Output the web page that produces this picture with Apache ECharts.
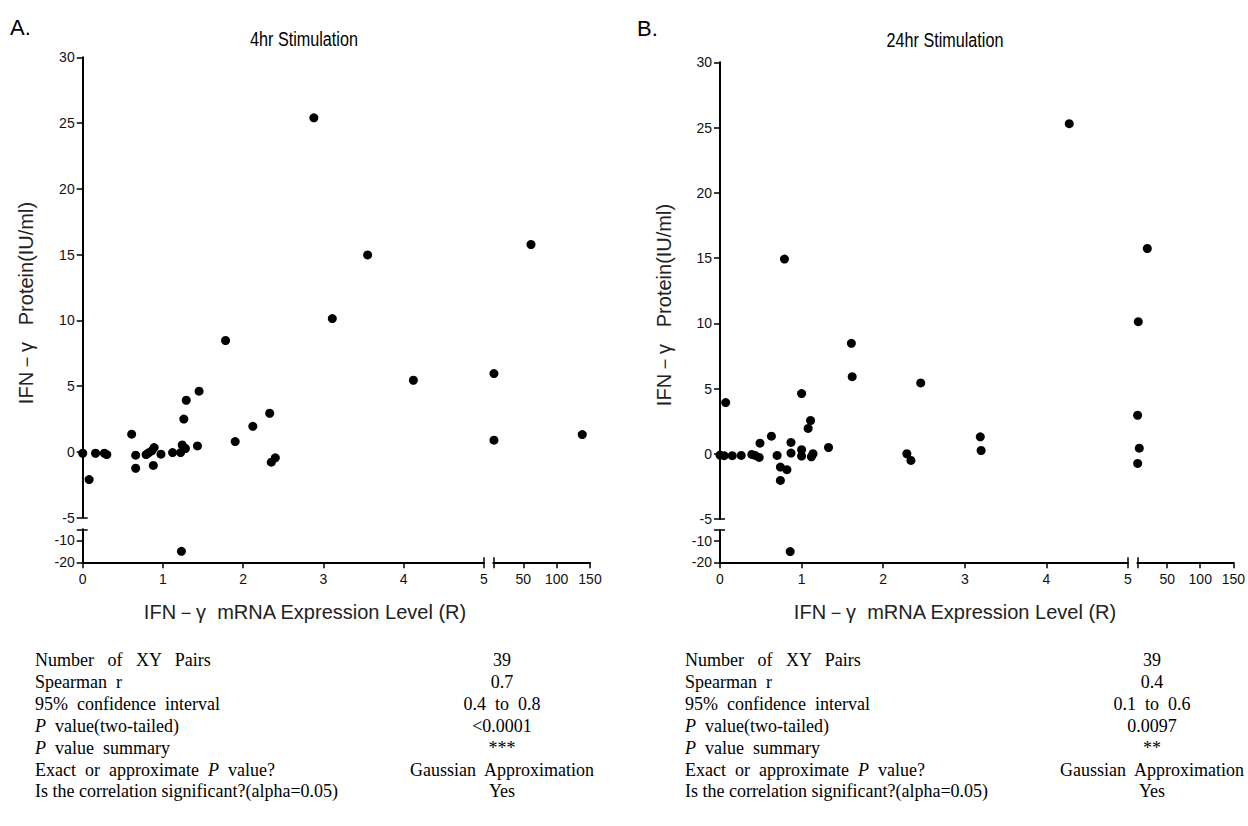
<!DOCTYPE html>
<html><head><meta charset="utf-8">
<script src="https://cdn.jsdelivr.net/npm/echarts@6/dist/echarts.min.js"></script>
<style>html,body{margin:0;padding:0;background:#fff}#c{width:1248px;height:826px}</style>
</head><body><div id="c"></div>
<script>
// ---------- DATA ----------
// Panel A: 4hr stimulation (x = mRNA expression level R, y = protein IU/ml)
const xA = [0, 0.08, 0.16, 0.27, 0.30, 0.61, 0.66, 0.66, 0.79, 0.82, 0.86, 0.89, 0.88, 0.975, 1.12, 1.22, 1.24, 1.28, 1.26, 1.29, 1.43, 1.45, 1.78, 1.90, 2.12, 2.33, 2.35, 2.40, 1.23, 2.88, 3.55, 3.11, 4.12, 6, 6, 61.5, 138.4];
const yA = [-0.1, -2.1, -0.1, -0.1, -0.2, 1.35, -0.25, -1.24, -0.2, -0.07, 0.08, 0.33, -1.03, -0.17, -0.05, -0.05, 0.53, 0.26, 2.5, 3.93, 0.46, 4.62, 8.47, 0.79, 1.95, 2.94, -0.78, -0.45, -15, 25.4, 14.98, 10.14, 5.45, 5.96, 0.89, 15.77, 1.32];
// Panel B: 24hr stimulation
const xB = [0.0, 0.05, 0.07, 0.15, 0.26, 0.39, 0.43, 0.48, 0.49, 0.63, 0.70, 0.74, 0.82, 0.74, 0.87, 0.87, 1.0, 1.0, 1.0, 1.08, 1.11, 1.12, 1.14, 1.33, 2.29, 2.34, 0.86, 4.28, 19.7, 6.3, 5.3, 7.8, 5.4, 2.46, 3.19, 3.20, 1.61, 1.62, 0.79];
const yB = [-0.1, -0.15, 3.92, -0.15, -0.13, -0.05, -0.13, -0.28, 0.81, 1.35, -0.13, -1.02, -1.22, -2.04, 0.87, 0.05, 0.31, -0.18, 4.61, 1.94, 2.55, -0.23, 0.0, 0.48, 0.0, -0.51, -15, 25.3, 15.73, 10.12, 2.95, 0.43, -0.74, 5.43, 1.3, 0.25, 8.46, 5.91, 14.92];

const yTicksUpper = [-5, 0, 5, 10, 15, 20, 25, 30];
const yTicksLower = [-20, -10];
const xTicksLeft = [0, 1, 2, 3, 4, 5];
const xTicksRight = [50, 100, 150];

const statLabels = ['Number   of   XY   Pairs', 'Spearman  r', '95%  confidence  interval', '{i|P}  value(two-tailed)', '{i|P}  value  summary', 'Exact  or  approximate  {i|P}  value?', 'Is the correlation significant?(alpha=0.05)'];
const statsA = ['39', '0.7', '0.4  to  0.8', '<0.0001', '***', 'Gaussian  Approximation', 'Yes'];
const statsB = ['39', '0.4', '0.1  to  0.6', '0.0097', '**', 'Gaussian  Approximation', 'Yes'];

const titleA = '4hr Stimulation', titleB = '24hr Stimulation';
const yName = 'IFN－γ   Protein(IU/ml)';
const xName = 'IFN－γ  mRNA Expression Level (R)';

// axis break settings
const X_BREAK = 5, X_MAX = 150, Y_BREAK = -5, Y_MIN = -20, Y_MAX = 30;

// ---------- LAYOUT ----------
const PANELS = [
  {xs: xA, ys: yA, L: 82.7, LE: 484, RS: 493.3, RE: 590, T: 57.3, UB: 517.7, LT: 529.3, B: 562.3},
  {xs: xB, ys: yB, L: 720, LE: 1128, RS: 1137.4, RE: 1235, T: 62.3, UB: 519, LT: 530, B: 562.3}
];
const INK = '#000';
const SANS = "'Liberation Sans', Arial, sans-serif";
const SERIF = "'Liberation Serif', 'Times New Roman', serif";
const lab = {show: true, color: '#111', fontSize: 14, fontFamily: SANS};

function hiddenAx(grid, min, max) {
  return {type: 'value', gridIndex: grid, min, max, show: false, splitLine: {show: false}};
}
function visAx(grid, min, max, ticks, labels, pos) {
  return {type: 'value', gridIndex: grid, min, max, position: pos, splitLine: {show: false},
    axisLine: {show: true, onZero: false, lineStyle: {color: INK, width: 2}},
    axisTick: {show: true, length: 6, customValues: ticks, lineStyle: {color: INK, width: 1.5}},
    axisLabel: Object.assign({}, lab, {customValues: labels, margin: pos === 'left' ? 8 : 10})};
}
function capAx(grid, min, max, vals, pos) {
  return {type: 'value', gridIndex: grid, min, max, position: pos, splitLine: {show: false},
    axisLine: {show: false, onZero: false},
    axisTick: {show: true, inside: true, length: 5, customValues: vals, lineStyle: {color: INK, width: 1.5}},
    axisLabel: {show: false}};
}

const grid = [], xAxis = [], yAxis = [], series = [];
PANELS.forEach(p => {
  const g0 = grid.length;
  grid.push({left: p.L, top: p.T, width: p.LE - p.L, height: p.UB - p.T});
  grid.push({left: p.L, top: p.LT, width: p.LE - p.L, height: p.B - p.LT});
  grid.push({left: p.RS, top: p.T, width: p.RE - p.RS, height: p.UB - p.T});
  grid.push({left: p.RS, top: p.LT, width: p.RE - p.RS, height: p.B - p.LT});
  const xi = xAxis.length;
  xAxis.push(hiddenAx(g0, 0, X_BREAK));
  xAxis.push(visAx(g0 + 1, 0, X_BREAK, xTicksLeft, xTicksLeft, 'bottom'));
  xAxis.push(capAx(g0 + 1, 0, X_BREAK, [X_BREAK], 'bottom'));
  xAxis.push(hiddenAx(g0 + 2, X_BREAK, X_MAX));
  xAxis.push(visAx(g0 + 3, X_BREAK, X_MAX, [X_BREAK].concat(xTicksRight), xTicksRight, 'bottom'));
  xAxis.push(capAx(g0 + 3, X_BREAK, X_MAX, [X_BREAK], 'bottom'));
  const yi = yAxis.length;
  yAxis.push(visAx(g0, Y_BREAK, Y_MAX, yTicksUpper, yTicksUpper, 'left'));
  yAxis.push(capAx(g0, Y_BREAK, Y_MAX, [Y_BREAK], 'left'));
  yAxis.push(visAx(g0 + 1, Y_MIN, Y_BREAK, [Y_BREAK].concat(yTicksLower), yTicksLower, 'left'));
  yAxis.push(capAx(g0 + 1, Y_MIN, Y_BREAK, [Y_BREAK], 'left'));
  yAxis.push(hiddenAx(g0 + 2, Y_BREAK, Y_MAX));
  yAxis.push(hiddenAx(g0 + 3, Y_MIN, Y_BREAK));
  const segs = [
    {xa: xi + 0, ya: yi + 0, fx: v => v <= X_BREAK, fy: v => v >= Y_BREAK},
    {xa: xi + 1, ya: yi + 2, fx: v => v <= X_BREAK, fy: v => v < Y_BREAK},
    {xa: xi + 3, ya: yi + 4, fx: v => v > X_BREAK, fy: v => v >= Y_BREAK},
    {xa: xi + 4, ya: yi + 5, fx: v => v > X_BREAK, fy: v => v < Y_BREAK}
  ];
  segs.forEach(s => {
    const data = [];
    p.xs.forEach((x, i) => { const y = p.ys[i]; if (s.fx(x) && s.fy(y)) data.push([x, y]); });
    series.push({type: 'scatter', xAxisIndex: s.xa, yAxisIndex: s.ya, data, symbol: 'circle', symbolSize: 9,
      itemStyle: {color: '#000', opacity: 1}, clip: false, silent: true});
  });
});

// ---------- TEXT ----------
function txt(x, y, text, o) {
  return Object.assign({type: 'text', x, y, silent: true,
    style: Object.assign({text, fill: INK, fontFamily: SANS, fontSize: 17, align: 'center', verticalAlign: 'middle',
      textAlign: 'center', textVerticalAlign: 'middle'}, o && o.style)}, o && o.el);
}
const graphic = [
  txt(10, 27, 'A.', {style: {fontSize: 22, align: 'left', textAlign: 'left'}}),
  txt(637, 28, 'B.', {style: {fontSize: 22, align: 'left', textAlign: 'left'}}),
  txt(304, 39, titleA, {style: {fontSize: 21}, el: {scaleX: 0.77}}),
  txt(945, 40, titleB, {style: {fontSize: 21}, el: {scaleX: 0.77}}),
  txt(26, 303, yName, {style: {fontSize: 20, fill: '#222'}, el: {rotation: Math.PI / 2}}),
  txt(664, 305, yName, {style: {fontSize: 20, fill: '#222'}, el: {rotation: Math.PI / 2}}),
  txt(305, 612, xName, {style: {fontSize: 20, fill: '#222'}}),
  txt(955, 612, xName, {style: {fontSize: 20, fill: '#222'}})
];
const SF = 18;
const rich = {i: {fontStyle: 'italic', fontFamily: SERIF, fontSize: SF, fill: INK, color: INK}};
[[35, 502, statsA], [685, 1152, statsB]].forEach(([lx, vx, vals]) => {
  statLabels.forEach((s, i) => {
    const y = 660 + i * 21.9;
    graphic.push(txt(lx, y, s, {style: {fontFamily: SERIF, fontSize: SF, align: 'left', textAlign: 'left', rich}}));
    graphic.push(txt(vx, y, vals[i], {style: {fontFamily: SERIF, fontSize: SF}}));
  });
});

const chart = echarts.init(document.getElementById('c'), null, {renderer: 'svg'});
chart.setOption({animation: false, backgroundColor: '#fff', grid, xAxis, yAxis, series, graphic});
</script></body></html>
